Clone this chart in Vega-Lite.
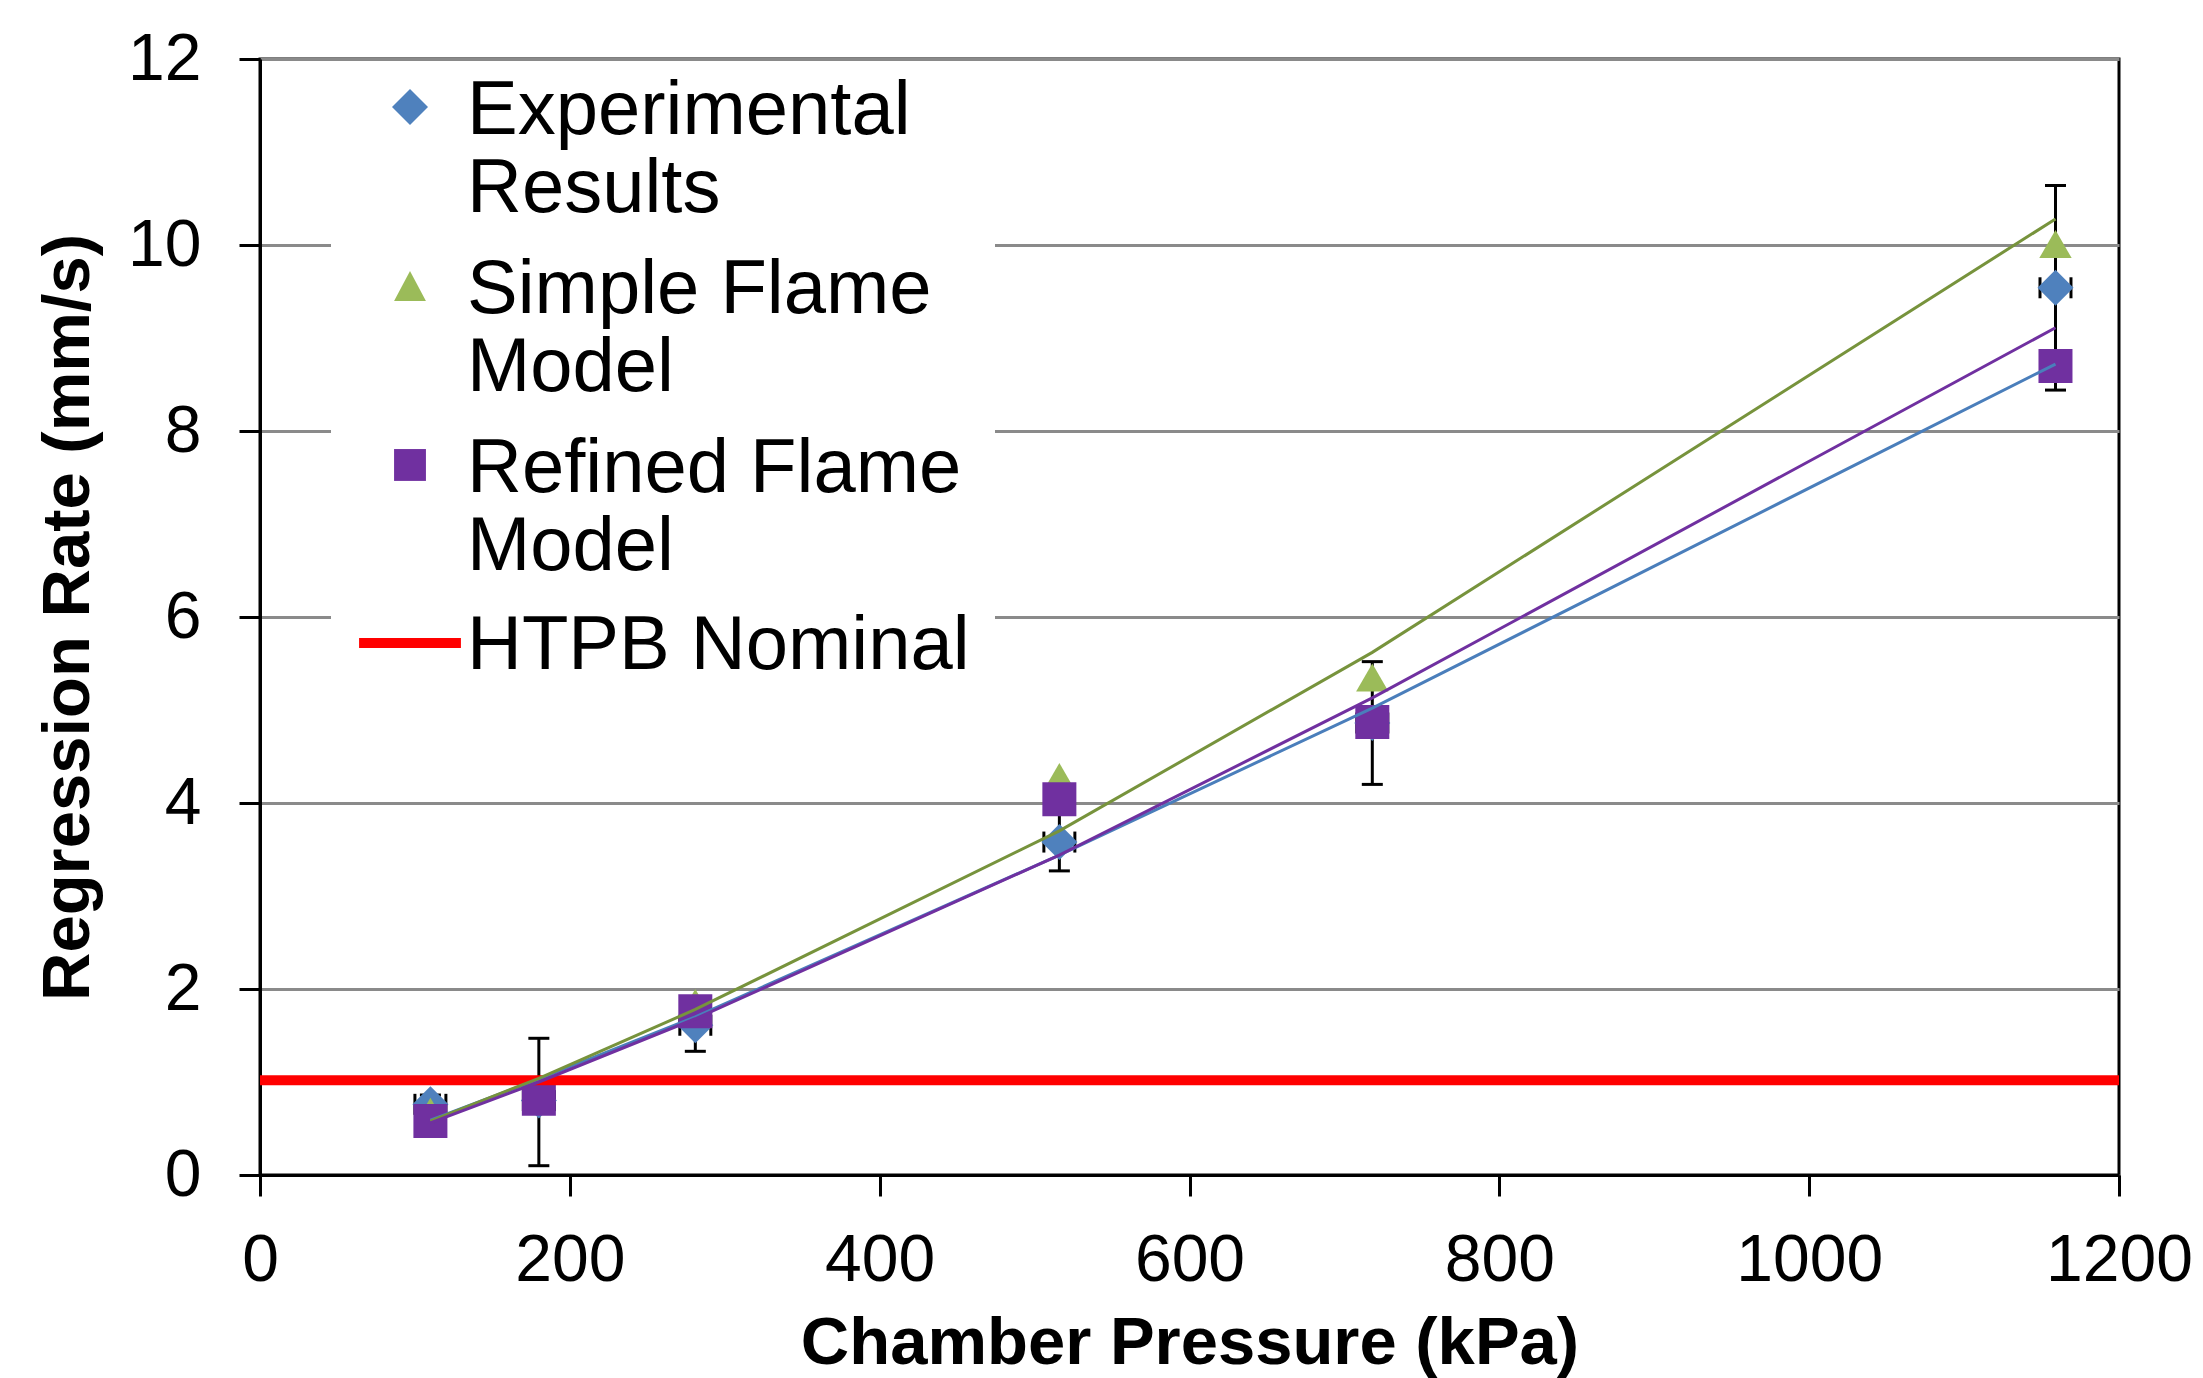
{
  "$schema": "https://vega.github.io/schema/vega-lite/v6.json",
  "width": 1859,
  "height": 1116,
  "autosize": "none",
  "padding": {"left": 260, "top": 59, "right": 84, "bottom": 203},
  "background": "white",
  "config": {
    "font": "Liberation Sans",
    "view": {"stroke": "black", "strokeWidth": 3},
    "axis": {
      "labelFont": "Liberation Sans", "titleFont": "Liberation Sans",
      "labelColor": "black", "titleColor": "black",
      "labelFontSize": 66, "titleFontSize": 67, "titleFontWeight": "bold",
      "domainColor": "black", "domainWidth": 3,
      "tickColor": "black", "tickWidth": 3, "tickSize": 21,
      "labelFlush": false, "labelOverlap": false, "labelBound": false
    },
    "legend": {
      "title": null, "orient": "none", "legendX": 71, "legendY": 12,
      "padding": 25, "fillColor": "white",
      "labelFont": "Liberation Sans", "labelFontSize": 76, "labelColor": "black", "labelLimit": 0,
      "labelBaseline": "alphabetic", "labelOffset": 19, "symbolOffset": 16, "symbolSize": 1200,
      "symbolStrokeWidth": 10, "symbolOpacity": 1, "rowPadding": 23
    }
  },
  "datasets": {
    "points": [
      {"series": "Experimental Results", "p": 110, "r": 0.76},
      {"series": "Experimental Results", "p": 180, "r": 0.80},
      {"series": "Experimental Results", "p": 281, "r": 1.61},
      {"series": "Experimental Results", "p": 516, "r": 3.58},
      {"series": "Experimental Results", "p": 718, "r": 4.86},
      {"series": "Experimental Results", "p": 1159, "r": 9.54},
      {"series": "Simple Flame Model", "p": 110, "r": 0.68},
      {"series": "Simple Flame Model", "p": 180, "r": 0.85},
      {"series": "Simple Flame Model", "p": 281, "r": 1.85},
      {"series": "Simple Flame Model", "p": 516, "r": 4.28},
      {"series": "Simple Flame Model", "p": 718, "r": 5.35},
      {"series": "Simple Flame Model", "p": 1159, "r": 10.01},
      {"series": "Refined Flame Model", "p": 110, "r": 0.58},
      {"series": "Refined Flame Model", "p": 180, "r": 0.82},
      {"series": "Refined Flame Model", "p": 281, "r": 1.76},
      {"series": "Refined Flame Model", "p": 516, "r": 4.04},
      {"series": "Refined Flame Model", "p": 718, "r": 4.87},
      {"series": "Refined Flame Model", "p": 1159, "r": 8.70}
    ],
    "errors": [
      {"p": 110, "r": 0.76, "ylo": 0.66, "yhi": 0.86, "xlo": 100, "xhi": 120},
      {"p": 180, "r": 0.80, "ylo": 0.10, "yhi": 1.47, "xlo": 170, "xhi": 190},
      {"p": 281, "r": 1.61, "ylo": 1.33, "yhi": 1.89, "xlo": 271, "xhi": 291},
      {"p": 516, "r": 3.58, "ylo": 3.27, "yhi": 3.89, "xlo": 506, "xhi": 526},
      {"p": 718, "r": 4.86, "ylo": 4.20, "yhi": 5.52, "xlo": 708, "xhi": 728},
      {"p": 1159, "r": 9.54, "ylo": 8.44, "yhi": 10.64, "xlo": 1149, "xhi": 1169}
    ],
    "fits": [
      {"fit": "Experimental", "p": 110, "r": 0.59},
      {"fit": "Experimental", "p": 180, "r": 1.03},
      {"fit": "Experimental", "p": 281, "r": 1.70},
      {"fit": "Experimental", "p": 516, "r": 3.44},
      {"fit": "Experimental", "p": 718, "r": 5.02},
      {"fit": "Experimental", "p": 1159, "r": 8.72},
      {"fit": "Simple", "p": 110, "r": 0.58},
      {"fit": "Simple", "p": 180, "r": 1.04},
      {"fit": "Simple", "p": 281, "r": 1.78},
      {"fit": "Simple", "p": 516, "r": 3.70},
      {"fit": "Simple", "p": 718, "r": 5.62},
      {"fit": "Simple", "p": 1159, "r": 10.28},
      {"fit": "Refined", "p": 110, "r": 0.56},
      {"fit": "Refined", "p": 180, "r": 1.00},
      {"fit": "Refined", "p": 281, "r": 1.68},
      {"fit": "Refined", "p": 516, "r": 3.44},
      {"fit": "Refined", "p": 718, "r": 5.13},
      {"fit": "Refined", "p": 1159, "r": 9.11}
    ],
    "nominal": [
      {"series": "HTPB Nominal", "p": 0, "r": 1.02},
      {"series": "HTPB Nominal", "p": 1200, "r": 1.02}
    ],
    "legendrows": [
      {"series": "Experimental Results", "p": null, "r": null},
      {"series": "Simple Flame Model", "p": null, "r": null},
      {"series": "Refined Flame Model", "p": null, "r": null},
      {"series": "HTPB Nominal", "p": null, "r": null}
    ]
  },
  "encoding": {
    "x": {
      "type": "quantitative",
      "scale": {"domain": [0, 1200], "nice": false},
      "axis": {
        "title": "Chamber Pressure (kPa)",
        "values": [0, 200, 400, 600, 800, 1000, 1200], "format": "d",
        "grid": false, "labelPadding": 32, "titlePadding": 17
      }
    },
    "y": {
      "type": "quantitative",
      "scale": {"domain": [0, 12], "nice": false},
      "axis": {
        "title": "Regression Rate (mm/s)",
        "values": [0, 2, 4, 6, 8, 10, 12], "format": "d",
        "grid": true, "gridColor": "#8a8a8a", "gridWidth": 3,
        "labelPadding": 38, "titlePadding": 25
      }
    }
  },
  "layer": [
    {
      "data": {"name": "errors"},
      "mark": {"type": "rule", "color": "black", "strokeWidth": 3},
      "encoding": {"x": {"field": "p"}, "y": {"field": "ylo"}, "y2": {"field": "yhi"}}
    },
    {
      "data": {"name": "errors"},
      "mark": {"type": "tick", "orient": "horizontal", "color": "black", "size": 21, "thickness": 3, "opacity": 1},
      "encoding": {"x": {"field": "p"}, "y": {"field": "ylo"}}
    },
    {
      "data": {"name": "errors"},
      "mark": {"type": "tick", "orient": "horizontal", "color": "black", "size": 21, "thickness": 3, "opacity": 1},
      "encoding": {"x": {"field": "p"}, "y": {"field": "yhi"}}
    },
    {
      "data": {"name": "errors"},
      "mark": {"type": "rule", "color": "black", "strokeWidth": 3},
      "encoding": {"x": {"field": "xlo"}, "x2": {"field": "xhi"}, "y": {"field": "r"}}
    },
    {
      "data": {"name": "errors"},
      "mark": {"type": "tick", "orient": "vertical", "color": "black", "size": 21, "thickness": 3, "opacity": 1},
      "encoding": {"x": {"field": "xlo"}, "y": {"field": "r"}}
    },
    {
      "data": {"name": "errors"},
      "mark": {"type": "tick", "orient": "vertical", "color": "black", "size": 21, "thickness": 3, "opacity": 1},
      "encoding": {"x": {"field": "xhi"}, "y": {"field": "r"}}
    },
    {
      "data": {"name": "points"},
      "transform": [{"filter": "datum.series == 'Experimental Results'"}],
      "mark": {"type": "point", "shape": "diamond", "filled": true, "opacity": 1, "size": 1296, "color": "#4F81BD", "strokeWidth": 0},
      "encoding": {"x": {"field": "p"}, "y": {"field": "r"}}
    },
    {
      "data": {"name": "points"},
      "transform": [{"filter": "datum.series == 'Simple Flame Model'"}],
      "mark": {"type": "point", "shape": "triangle-up", "filled": true, "opacity": 1, "size": 1050, "color": "#9BBB59", "strokeWidth": 0},
      "encoding": {"x": {"field": "p"}, "y": {"field": "r"}}
    },
    {
      "data": {"name": "points"},
      "transform": [{"filter": "datum.series == 'Refined Flame Model'"}],
      "mark": {"type": "point", "shape": "square", "filled": true, "opacity": 1, "size": 1156, "color": "#7030A0", "strokeWidth": 0},
      "encoding": {"x": {"field": "p"}, "y": {"field": "r"}}
    },
    {
      "data": {"name": "nominal"},
      "mark": {"type": "line", "strokeWidth": 10, "color": "#FF0000"},
      "encoding": {"x": {"field": "p"}, "y": {"field": "r"}}
    },
    {
      "data": {"name": "fits"},
      "mark": {"type": "line", "strokeWidth": 3},
      "encoding": {
        "x": {"field": "p"},
        "y": {"field": "r"},
        "color": {
          "field": "fit", "type": "nominal",
          "scale": {"domain": ["Experimental", "Simple", "Refined"], "range": ["#4A7EBB", "#77933C", "#7030A0"]},
          "legend": null
        }
      }
    },
    {
      "data": {"name": "legendrows"},
      "mark": {"type": "point", "filled": true},
      "encoding": {
        "x": {"field": "p"},
        "y": {"field": "r"},
        "fill": {
          "field": "series", "type": "nominal",
          "scale": {
            "domain": ["Experimental Results", "Simple Flame Model", "Refined Flame Model", "HTPB Nominal"],
            "range": ["#4F81BD", "#9BBB59", "#7030A0", "transparent"]
          },
          "legend": {
            "labelExpr": "datum.label == 'Experimental Results' ? ['Experimental', 'Results'] : datum.label == 'HTPB Nominal' ? datum.label : [replace(datum.label, ' Model', ''), 'Model']"
          }
        },
        "stroke": {
          "field": "series", "type": "nominal",
          "scale": {
            "domain": ["Experimental Results", "Simple Flame Model", "Refined Flame Model", "HTPB Nominal"],
            "range": ["transparent", "transparent", "transparent", "#FF0000"]
          },
          "legend": {
            "labelExpr": "datum.label == 'Experimental Results' ? ['Experimental', 'Results'] : datum.label == 'HTPB Nominal' ? datum.label : [replace(datum.label, ' Model', ''), 'Model']"
          }
        },
        "shape": {
          "field": "series", "type": "nominal",
          "scale": {
            "domain": ["Experimental Results", "Simple Flame Model", "Refined Flame Model", "HTPB Nominal"],
            "range": [
              "M-1.04,-1.56L0,-2.6L1.04,-1.56L0,-0.52Z",
              "M0,-2.43L0.92,-0.69L-0.92,-0.69Z",
              "M-0.92,-2.48H0.92V-0.64H-0.92Z",
              "M-2.94,-1.5H2.94"
            ]
          },
          "legend": {
            "labelExpr": "datum.label == 'Experimental Results' ? ['Experimental', 'Results'] : datum.label == 'HTPB Nominal' ? datum.label : [replace(datum.label, ' Model', ''), 'Model']"
          }
        }
      }
    }
  ]
}
